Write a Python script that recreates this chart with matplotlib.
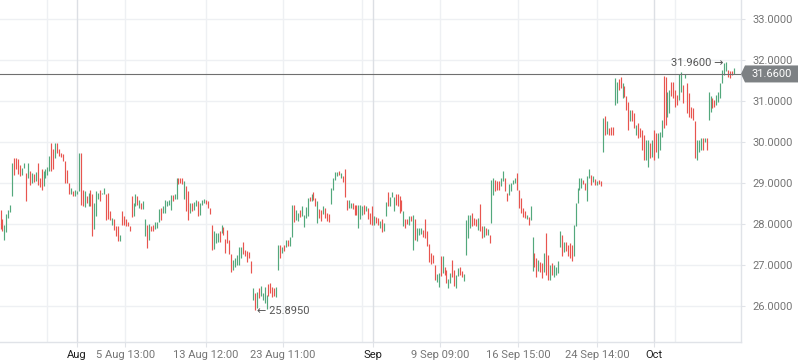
import matplotlib
matplotlib.use("Agg")
import matplotlib.pyplot as plt
from matplotlib.patches import Polygon

# ---------------- data ----------------
highs = [
 28.33, 28.11, 27.98, 28.25, 28.35, 28.47, 29.49, 29.62, 29.62, 29.58,
 29.43, 29.37, 29.49, 29.25, 29.49, 29.29, 29.25, 29.21, 29.27, 29.49,
 29.13, 29.33, 29.29, 29.33, 29.40, 29.66, 29.98, 29.82, 29.98, 29.98,
 29.82, 29.74, 29.70, 29.53, 29.31, 29.00, 28.88, 28.80, 28.84, 28.80,
 29.72, 29.72, 28.84, 28.80, 28.69, 28.76, 28.82, 28.72, 28.51, 28.80,
 28.76, 28.84, 28.76, 28.88, 28.72, 28.76, 28.31, 28.15, 28.11, 27.94,
 27.94, 27.74, 28.31, 28.19, 28.11, 28.05, 27.96, 28.68, 28.50, 28.74,
 28.68, 28.58, 28.50, 28.56, 28.12, 27.98, 28.01,
 27.96, 27.98, 28.06, 28.06, 28.36, 28.39, 28.43, 28.59, 28.55, 28.58,
 28.71, 28.71, 28.73, 29.12, 29.12, 29.12, 29.12, 29.04, 28.93, 28.80,
 28.51, 28.51, 28.53, 28.58, 28.55, 28.51, 28.58, 28.61, 28.58, 28.55,
 28.39, 27.98, 27.82, 27.79, 27.79, 27.82, 27.98, 27.92, 27.63, 27.86,
 27.61, 27.27, 27.13, 27.17, 27.25, 27.45, 27.44, 27.55, 27.37, 27.33,
 27.31, 27.10, 26.43, 26.31, 26.33, 26.43, 26.49, 26.31, 26.47, 26.27,
 26.54, 26.57, 26.47, 26.45, 26.47, 27.49, 27.49, 27.45, 27.49, 27.61,
 27.61, 27.68, 28.47, 28.47, 28.35,
 28.27, 28.33, 28.43, 28.23, 28.41, 28.63, 28.67, 28.72, 28.77, 28.63,
 28.55, 28.37, 28.35, 28.43, 28.39, 28.27, 28.25, 28.89, 29.12, 29.28,
 29.26, 29.30, 29.24, 29.16, 29.33, 28.58, 28.58, 28.51, 28.50, 28.47,
 28.47, 28.47, 28.47, 28.43, 28.47, 28.43, 28.39, 28.28, 28.43, 28.19,
 28.17, 28.15, 28.07, 28.11, 28.02, 28.53, 28.77, 28.67, 28.77, 28.67,
 28.74, 28.74, 28.69, 28.59, 28.31, 28.12, 28.12, 28.20, 28.20, 28.23,
 28.12, 27.90, 27.90, 27.90, 27.85, 28.12, 27.82, 27.50, 27.29, 27.25,
 27.01, 26.79, 26.80, 27.23, 27.23, 26.95,
 26.88, 26.67, 26.80, 27.12, 26.88, 26.76, 26.92, 26.96, 26.85, 26.77,
 28.10, 28.22, 28.22, 28.27, 28.14, 28.13, 28.14, 28.49, 27.94, 27.94,
 27.90, 27.88, 27.72, 29.08, 29.11, 29.08, 29.04, 29.04, 29.11, 29.30,
 29.12, 28.76, 28.98, 29.00, 29.08, 29.11, 29.24, 28.84, 28.63, 28.40,
 28.31, 28.22, 28.18, 28.43, 27.69, 27.29, 27.16, 27.12, 27.08, 27.04,
 27.29, 27.78, 27.24, 27.00, 27.04, 27.00, 26.96, 27.10, 27.82, 27.73,
 27.56, 27.57, 27.49, 27.53, 27.49, 27.98, 28.51, 28.88, 29.11, 29.12,
 29.08, 29.00, 29.16, 29.35, 29.20, 29.16,
 29.10, 29.06, 29.08, 29.04,
 30.58, 30.63, 30.52, 30.33, 30.36, 30.36, 31.55, 31.47, 31.53, 31.59,
 31.45, 31.37, 31.11, 30.98, 30.78, 30.78, 30.70, 30.41, 30.46, 30.33,
 30.29, 30.17, 30.05, 30.05, 29.97, 30.05, 30.29, 30.21, 30.21, 30.25,
 30.54, 31.61, 31.59, 31.23, 31.27, 31.47, 31.47, 31.27, 31.15, 31.67,
 31.70, 31.39, 31.67, 31.43, 31.19, 30.86, 30.82, 30.50, 30.05, 30.05,
 30.09, 30.09, 30.09, 30.09, 31.23, 31.11, 31.07, 31.02, 31.15, 31.23,
 31.43, 31.76, 31.92, 31.96, 31.76, 31.72, 31.74, 31.80,
]
lows = [
 27.88, 27.82, 27.62, 27.80, 28.15, 28.29, 28.68, 29.19, 29.35, 29.23,
 29.17, 29.19, 29.37, 28.56, 29.13, 28.96, 29.00, 29.02, 29.04, 28.96,
 28.91, 28.82, 28.92, 29.11, 29.20, 29.29, 29.29, 29.33, 29.62, 29.74,
 29.67, 29.64, 29.53, 29.00, 29.00, 28.74, 28.72, 28.68, 28.68, 28.72,
 28.80, 28.47, 28.45, 28.42, 28.51, 28.43, 28.45, 27.70, 27.89, 28.20,
 28.61, 28.56, 28.72, 28.72, 28.09, 28.11, 28.09, 27.98, 27.86, 27.70,
 27.58, 27.58, 27.98, 27.98, 27.94, 27.94, 27.82, 28.17, 28.20, 28.45,
 28.47, 28.38, 28.37, 28.37, 27.71, 27.41, 27.60,
 27.82, 27.84, 27.88, 27.90, 28.06, 28.10, 28.27, 28.28, 28.43, 28.47,
 28.35, 28.55, 28.61, 28.61, 28.98, 29.00, 28.98, 28.61, 28.31, 28.10,
 28.28, 28.31, 28.35, 28.43, 28.19, 28.23, 28.47, 28.51, 28.49, 28.39,
 28.25, 27.37, 27.39, 27.53, 27.57, 27.57, 27.78, 27.74, 27.30, 27.53,
 27.27, 26.82, 26.88, 26.95, 27.00, 27.00, 27.17, 27.26, 27.21, 27.08,
 27.17, 26.80, 26.15, 25.895, 25.94, 26.19, 26.25, 26.15, 26.07, 25.92,
 26.25, 26.31, 26.23, 26.25, 26.23, 26.88, 27.17, 27.29, 27.35, 27.45,
 27.47, 27.47, 27.68, 28.06, 28.10,
 28.07, 28.17, 28.19, 27.92, 28.15, 28.19, 28.55, 28.55, 28.59, 28.43,
 28.02, 28.15, 28.07, 28.25, 28.15, 28.07, 28.04, 28.49, 28.84, 29.07,
 29.16, 29.20, 29.12, 29.02, 28.67, 28.35, 28.39, 28.39, 28.37, 28.23,
 28.23, 27.90, 28.11, 28.23, 28.25, 28.31, 28.12, 28.01, 27.98, 27.98,
 28.02, 27.98, 27.90, 27.80, 27.82, 28.20, 28.43, 28.43, 28.66, 28.31,
 28.47, 28.43, 28.28, 28.31, 27.94, 27.90, 28.01, 27.98, 28.07, 27.37,
 27.62, 27.58, 27.72, 27.76, 27.68, 27.66, 27.47, 27.07, 27.03, 27.05,
 26.64, 26.58, 26.46, 26.72, 26.80, 26.76,
 26.55, 26.43, 26.55, 26.71, 26.49, 26.44, 26.74, 26.76, 26.71, 26.61,
 27.24, 27.65, 27.90, 27.94, 27.98, 27.94, 27.86, 27.82, 27.65, 27.69,
 27.72, 27.72, 27.53, 28.02, 28.71, 28.81, 28.84, 28.84, 28.92, 29.04,
 28.80, 28.55, 28.70, 28.81, 28.98, 29.00, 28.84, 28.39, 28.27, 28.18,
 28.14, 28.13, 27.98, 28.10, 26.85, 26.96, 26.71, 26.85, 26.84, 26.69,
 26.84, 26.76, 26.63, 26.63, 26.76, 26.71, 26.76, 26.80, 27.45, 27.23,
 27.31, 27.33, 27.23, 27.16, 27.10, 27.23, 27.96, 28.51, 28.84, 28.88,
 28.98, 28.84, 28.57, 29.12, 28.94, 29.02,
 28.96, 28.95, 28.97, 28.93,
 29.76, 30.17, 30.20, 30.17, 30.17, 30.17, 30.90, 30.94, 31.28, 31.31,
 31.07, 31.09, 30.78, 30.29, 30.50, 30.50, 30.33, 30.17, 30.09, 30.13,
 29.80, 29.56, 29.56, 29.40, 29.60, 29.64, 29.56, 29.76, 29.60, 29.80,
 30.13, 30.33, 30.41, 30.62, 30.70, 31.11, 31.07, 30.86, 30.90, 31.02,
 31.23, 30.94, 31.55, 30.70, 30.62, 30.58, 30.54, 29.60, 29.56, 29.76,
 29.80, 29.80, 30.01, 29.80, 30.54, 30.74, 30.82, 30.86, 30.90, 30.98,
 31.07, 31.43, 31.63, 31.72, 31.59, 31.55, 31.63, 31.67,
]
# u = up (green) bar, d = down (red) bar
directions = (
 "dduuuuuddd" "duudududud" "dduuuuddud" "dddddduduu" "uddududduu"
 "uduudddudd" "dudddddduu" "duduudu"
 "dduuuduuuu" "uduudddudd" "uduuduuudd" "dduuududdd" "dduuuuuddd"
 "ddududuuuu" "dddduududu" "duudu"
 "uduuuududd" "udduddduuu" "ududdduudd" "duuududddu" "dduduuduuu"
 "dddduddudu" "duuudddddd" "duudud"
 "duudduuddu" "uuuddduddu" "duduuddduu" "dduuuudddd" "duduuddudd"
 "udduduuuud" "udddduuuuu" "dduudu"
 "dudd"
 "ududdduudd" "uddduddudd" "dduududduu" "udduuddddu" "ududdddduu"
 "ududuudduu" "uuuudddu"
)

last_price = 31.66
y_ticks = [26, 27, 28, 29, 30, 31, 32, 33]
x_tick_pos = [39.1, 63.7, 105.1, 144.4, 190.4, 224.7, 264.6, 305.0, 334.1]
x_tick_labels = ["Aug", "5 Aug 13:00", "13 Aug 12:00", "23 Aug 11:00", "Sep",
                 "9 Sep 09:00", "16 Sep 15:00", "24 Sep 14:00", "Oct"]
month_labels = {"Aug", "Sep", "Oct"}
extra_grid_pos = [23.8, 184.8, 344.8]

# ---------------- style ----------------
plt.rcParams['font.family'] = ['Roboto', 'DejaVu Sans']
GREEN = '#53a87c'
RED = '#e8554f'
GRID = '#eef0f3'
GRID_MONTH = '#dcdfe4'
AXIS = '#e0e3e8'
LABEL = '#757575'

W, H = 798, 363
fig = plt.figure(figsize=(W / 100, H / 100), dpi=100)
fig.patch.set_facecolor('white')
ax = fig.add_axes([0, 21 / H, 741 / W, 342 / H])

n = len(highs)
xs = list(range(n))
cols = [GREEN if d == 'u' else RED for d in directions[:n]]

# grid
for y in y_ticks:
    ax.axhline(y, color=GRID, lw=1.0, zorder=0)
for p, lab in zip(x_tick_pos, x_tick_labels):
    ax.axvline(p, color=GRID_MONTH if lab in month_labels else GRID, lw=1.0, zorder=0)
for p in extra_grid_pos:
    ax.axvline(p, color=GRID, lw=1.0, zorder=0)

ax.vlines(xs, lows, highs, colors=cols, linewidth=0.85, zorder=2)

ax.axhline(last_price, color='#6f6f6f', lw=0.8, zorder=3)

px_per_bar = 1.956
ax.set_xlim(-0.5 / px_per_bar, (741 - 0.5) / px_per_bar)
ax.set_ylim(33 - (342 - 19) / 41, 33 + 19 / 41)

for s in ['top', 'left']:
    ax.spines[s].set_visible(False)
for s in ['right', 'bottom']:
    ax.spines[s].set_color(AXIS)
    ax.spines[s].set_linewidth(1.0)

ax.yaxis.tick_right()
ax.set_yticks(y_ticks)
ax.set_yticklabels([f"{v:.4f}" for v in y_ticks])
ax.tick_params(axis='y', length=3, color=AXIS, pad=5, labelsize=8, labelcolor=LABEL)
ax.set_xticks(x_tick_pos)
ax.set_xticklabels(x_tick_labels)
ax.tick_params(axis='x', length=3.5, color=AXIS, pad=2.5, labelsize=8, labelcolor=LABEL)
for t in ax.get_xticklabels():
    if t.get_text() in month_labels:
        t.set_color('#1e1e1e')

# max / min annotations
imax = max(range(n), key=lambda i: highs[i])
imin = min(range(n), key=lambda i: lows[i])
ax.text(imax - 1.2, highs[imax] - 0.04, f"{highs[imax]:.4f} \u2192", ha='right', va='center',
        fontsize=8, color='#555555', zorder=4)
ax.text(imin + 1.3, lows[imin] - 0.015, f"\u2190 {lows[imin]:.4f}", ha='left', va='center',
        fontsize=8, color='#555555', zorder=4)

# last price label box on the right axis
fig.canvas.draw()
ydisp = ax.transData.transform((0, last_price))[1]
poly = Polygon([(741, ydisp), (745, ydisp + 8.5), (798, ydisp + 8.5), (798, ydisp - 8.5), (745, ydisp - 8.5)],
               closed=True, transform=None, facecolor='#7d8184', edgecolor='none', zorder=5)
fig.patches.append(poly)
fig.text(752 / W, ydisp / H, f"{last_price:.4f}", ha='left', va='center', fontsize=8, color='white', zorder=6)

fig.savefig('out.png', dpi=100, facecolor='white')
